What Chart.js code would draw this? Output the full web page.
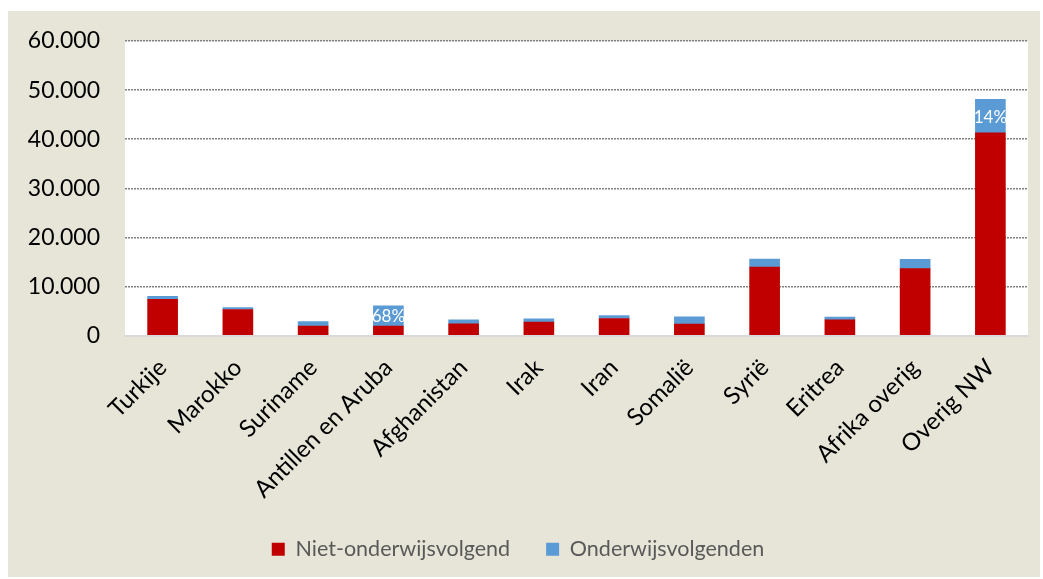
<!DOCTYPE html>
<html>
<head>
<meta charset="utf-8">
<script src="https://cdn.jsdelivr.net/npm/chart.js@4/dist/chart.umd.min.js"></script>
<style>
  body { margin: 0; background: #fff; }
  #box { position: absolute; left: 8px; top: 11px; width: 1032px; height: 566px; background: #E7E5D7; }
</style>
</head>
<body>
<div id="box"><canvas id="chart"></canvas></div>
<script>
var landen = ['Turkije', 'Marokko', 'Suriname', 'Antillen en Aruba', 'Afghanistan', 'Irak',
  'Iran', 'Somalië', 'Syrië', 'Eritrea', 'Afrika overig', 'Overig NW'];
var nietOnderwijs = [7350, 5300, 1900, 1920, 2380, 2720, 3470, 2310, 13940, 3200, 13610, 41300];
var onderwijs = [650, 400, 950, 4130, 820, 700, 600, 1500, 1630, 540, 1900, 6800];
var onderwijsLabels = ['', '', '', '68%', '', '', '', '', '', '', '', '14%'];
var yTicks = [0, 10000, 20000, 30000, 40000, 50000, 60000];

function fmt(v) {
  return String(v).replace(/\B(?=(\d{3})+(?!\d))/g, '.');
}

// witte achtergrond voor plotgebied
var plotBg = {
  id: 'plotBg',
  beforeDraw: function(chart) {
    var a = chart.chartArea;
    chart.ctx.save();
    chart.ctx.fillStyle = '#ffffff';
    chart.ctx.fillRect(a.left, a.top, a.right - a.left, a.bottom - a.top);
    chart.ctx.restore();
  }
};

// percentages in de blauwe stukken
var pctLabels = {
  id: 'pctLabels',
  afterDatasetsDraw: function(chart) {
    var ctx = chart.ctx;
    var meta = chart.getDatasetMeta(1);
    ctx.save();
    ctx.fillStyle = '#ffffff';
    ctx.font = '17px Lato';
    ctx.textAlign = 'center';
    ctx.textBaseline = 'middle';
    meta.data.forEach(function(bar, i) {
      if (!onderwijsLabels[i]) return;
      ctx.fillText(onderwijsLabels[i], bar.x, (bar.y + bar.base) / 2 + 1);
    });
    ctx.restore();
  }
};

Chart.defaults.font.family = 'Lato';
Chart.defaults.animation = false;

new Chart(document.getElementById('chart'), {
  type: 'bar',
  data: {
    labels: landen,
    datasets: [{
      label: 'Niet-onderwijsvolgend',
      data: nietOnderwijs,
      backgroundColor: '#C00000',
      barThickness: 30
    }, {
      label: 'Onderwijsvolgenden',
      data: onderwijs,
      backgroundColor: '#5B9BD5',
      barThickness: 30
    }]
  },
  options: {
    responsive: true,
    maintainAspectRatio: false,
    layout: { padding: { top: 30, right: 12, bottom: 7, left: 0 } },
    plugins: {
      tooltip: { enabled: false },
      legend: {
        position: 'bottom',
        labels: {
          color: '#595959',
          font: { size: 21.5 },
          boxWidth: 13,
          boxHeight: 13,
          padding: 36
        }
      }
    },
    scales: {
      x: {
        stacked: true,
        grid: { display: false },
        border: { color: '#d9d9d9', width: 2 },
        ticks: {
          color: '#000',
          font: { size: 24 },
          minRotation: 45,
          maxRotation: 45,
          padding: 10
        },
        afterFit: function(scale) { scale.height = 167; }
      },
      y: {
        stacked: true,
        min: 0,
        max: 60000,
        afterBuildTicks: function(scale) {
          scale.ticks = yTicks.map(function(v) { return { value: v }; });
        },
        border: { display: false, dash: [2, 1] },
        grid: {
          drawTicks: false,
          color: function(c) { return c.tick && c.tick.value === 0 ? 'rgba(0,0,0,0)' : '#808080'; },
          lineWidth: 1.5
        },
        ticks: {
          color: '#000',
          font: { size: 23 },
          padding: 25,
          callback: function(v) { return fmt(v); }
        },
        afterFit: function(scale) {
          scale.width = 117;
          scale.paddingTop = 10;
          scale.paddingBottom = 10;
        }
      }
    }
  },
  plugins: [plotBg, pctLabels]
});
</script>
</body>
</html>
